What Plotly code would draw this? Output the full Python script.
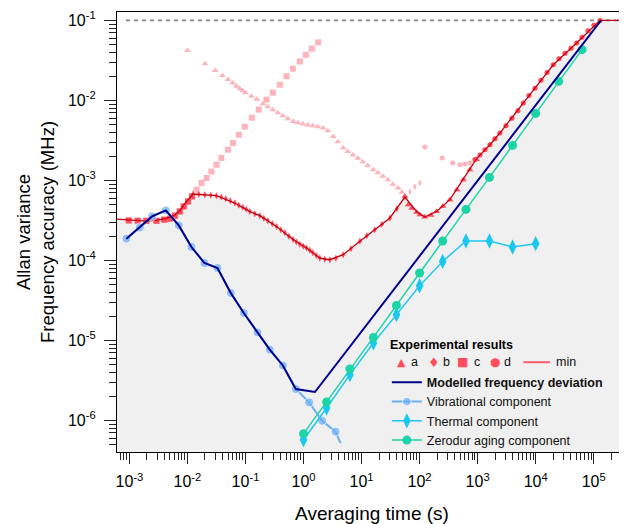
import numpy as np
import plotly.graph_objects as go

# ---------------- data ----------------
tick_exps_x = [-3, -2, -1, 0, 1, 2, 3, 4, 5]
tick_exps_y = [-6, -5, -4, -3, -2, -1]
threshold = 0.1

# Vibrational component
vib_t = [8.87e-4, 1.507e-3, 2.455e-3, 4.23e-3, 7.08e-3, 1.172e-2, 1.963e-2, 3.29e-2, 5.58e-2,
         9.35e-2, 0.161, 0.262, 0.440, 0.736, 1.25, 2.09, 3.56, 4.35]
vib_s = [1.87e-4, 2.58e-4, 3.55e-4, 4.22e-4, 2.74e-4, 1.47e-4, 9.27e-5, 8.04e-5, 3.91e-5,
         2.20e-5, 1.26e-5, 7.66e-6, 4.86e-6, 2.47e-6, 1.68e-6, 9.91e-7, 7.23e-7, 5.21e-7]

# Thermal component
therm_t = [1.0, 2.5, 6.3, 16, 40, 100, 250, 630, 1600, 4000, 10000]
therm_s = [5.74e-7, 1.43e-6, 3.73e-6, 9.28e-6, 2.10e-5, 4.83e-5, 9.71e-5, 1.75e-4, 1.75e-4, 1.47e-4, 1.62e-4]

# Zerodur aging component
zer_t = [1.0, 2.5, 6.3, 16, 40, 100, 250, 630, 1600, 4000, 10000, 25000, 63000]
zer_s = [6.83e-7, 1.70e-6, 4.39e-6, 1.09e-5, 2.74e-5, 6.96e-5, 1.75e-4, 4.34e-4, 1.09e-3,
         2.74e-3, 6.88e-3, 1.73e-2, 4.31e-2]

# Modelled frequency deviation
model_t = [8.87e-4, 1.507e-3, 2.455e-3, 4.23e-3, 7.08e-3, 1.172e-2, 1.963e-2, 3.29e-2, 5.58e-2,
           9.35e-2, 0.161, 0.262, 0.440, 0.736, 1.574, 1.337e5]
model_s = [1.87e-4, 2.58e-4, 3.55e-4, 4.22e-4, 2.74e-4, 1.47e-4, 9.27e-5, 8.04e-5, 3.91e-5,
           2.20e-5, 1.26e-5, 7.66e-6, 4.86e-6, 2.47e-6, 2.265e-6, 0.1]

# Experimental series a (triangles)
a_t = [0.010, 0.020, 0.030, 0.040, 0.050, 0.060, 0.070, 0.080, 0.090, 0.100, 0.127, 0.157, 0.200,
       0.242, 0.296, 0.361, 0.440, 0.536, 0.662, 0.798, 0.973, 1.186, 1.445, 1.765, 2.18, 2.62,
       3.24, 3.90, 4.82, 5.81, 7.08, 8.64, 10.5, 12.8, 15.8, 19.1, 23.3, 28.4, 34.7, 42.8, 49.5,
       55.8, 63.6, 73.6, 88.7, 101, 123, 157, 196, 252, 333, 440, 565, 736, 961]
a_s = [4.22e-2, 2.88e-2, 2.37e-2, 2.05e-2, 1.82e-2, 1.65e-2, 1.50e-2, 1.40e-2, 1.32e-2, 1.25e-2,
       1.13e-2, 1.035e-2, 9.1e-3, 8.34e-3, 7.66e-3, 7.02e-3, 6.44e-3, 5.91e-3, 5.46e-3, 5.26e-3,
       5.07e-3, 4.94e-3, 4.83e-3, 4.69e-3, 4.52e-3, 4.18e-3, 3.55e-3, 3.05e-3, 2.54e-3, 2.29e-3,
       2.07e-3, 1.89e-3, 1.71e-3, 1.53e-3, 1.36e-3, 1.25e-3, 1.13e-3, 1.02e-3, 8.96e-4, 8.04e-4,
       7.11e-4, 6.31e-4, 4.97e-4, 4.49e-4, 4.0e-4, 3.72e-4, 3.48e-4, 3.67e-4, 4.09e-4, 4.75e-4,
       5.74e-4, 7.66e-4, 1.02e-3, 1.36e-3, 1.82e-3]

# Experimental series b (diamonds)
b_t = [0.0125, 0.01567, 0.01986, 0.02523, 0.0316, 0.0383, 0.0457, 0.0547, 0.0655, 0.0766, 0.0897,
       0.1032, 0.1186, 0.1446, 0.1766, 0.207, 0.2427, 0.290, 0.342, 0.406, 0.476, 0.558, 0.662,
       0.752, 0.863, 0.993, 1.127, 1.285, 1.446, 1.663, 1.91, 2.33, 2.84, 3.61, 4.82, 6.55, 9.35,
       12.3, 16.9, 22.4, 30.8, 40.6, 55.8, 68.1, 83.0, 101]
b_s = [6.76e-4, 6.70e-4, 6.62e-4, 6.53e-4, 6.44e-4, 6.19e-4, 5.91e-4, 5.57e-4, 5.21e-4, 4.90e-4,
       4.62e-4, 4.37e-4, 4.09e-4, 3.84e-4, 3.62e-4, 3.37e-4, 3.13e-4, 2.88e-4, 2.66e-4, 2.42e-4,
       2.22e-4, 2.01e-4, 1.82e-4, 1.70e-4, 1.59e-4, 1.50e-4, 1.43e-4, 1.34e-4, 1.25e-4, 1.15e-4,
       1.07e-4, 1.035e-4, 1.02e-4, 1.065e-4, 1.18e-4, 1.40e-4, 1.73e-4, 2.04e-4, 2.42e-4, 2.83e-4,
       3.39e-4, 4.43e-4, 6.19e-4, 7.23e-4, 8.34e-4, 9.27e-4]

# Experimental series c (squares)
c_t = [9.73e-4, 1.39e-3, 1.96e-3, 2.92e-3, 3.95e-3, 4.95e-3, 6.04e-3, 7.36e-3, 8.63e-3, 1.023e-2,
       1.20e-2, 1.43e-2, 1.74e-2, 2.13e-2, 2.59e-2, 3.16e-2, 3.85e-2, 5.01e-2, 6.11e-2, 7.66e-2,
       9.73e-2, 0.1285, 0.1694, 0.230, 0.296, 0.390, 0.509, 0.655, 0.863, 1.096, 1.39, 1.79]
c_s = [3.16e-4, 3.13e-4, 3.13e-4, 3.13e-4, 3.23e-4, 3.32e-4, 3.62e-4, 4.09e-4, 4.73e-4, 5.46e-4,
       6.31e-4, 7.66e-4, 9.27e-4, 1.07e-3, 1.29e-3, 1.57e-3, 1.91e-3, 2.42e-3, 2.93e-3, 3.72e-3,
       4.69e-3, 6.08e-3, 7.66e-3, 1.02e-2, 1.25e-2, 1.57e-2, 2.0e-2, 2.49e-2, 3.07e-2, 3.72e-2,
       4.43e-2, 5.31e-2]

# Experimental series d (circles)
d_t = [123, 245, 371, 495, 604, 736, 897, 1096, 1337, 1630, 1986, 2420, 3076, 3900, 4955, 6110,
       7660, 9720, 12300, 15700, 20100, 25200, 32000, 40600, 50900, 62800, 79800, 101000, 128500]
d_s = [2.61e-3, 1.91e-3, 1.65e-3, 1.57e-3, 1.60e-3, 1.65e-3, 1.82e-3, 2.07e-3, 2.42e-3, 2.79e-3,
       3.32e-3, 3.91e-3, 4.83e-3, 5.99e-3, 7.43e-3, 9.27e-3, 1.15e-2, 1.42e-2, 1.79e-2, 2.24e-2,
       2.79e-2, 3.32e-2, 3.89e-2, 4.49e-2, 5.21e-2, 6.17e-2, 7.43e-2, 8.71e-2, 0.1]

# Minimum of the experimental results
min_t = [5.01e-4, 9.73e-4, 1.99e-3, 2.96e-3, 4.23e-3, 5.81e-3, 7.36e-3, 8.99e-3, 1.067e-2, 1.25e-2,
         3.16e-2, 6.55e-2, 0.1186, 0.1766, 0.343, 0.662, 1.127, 1.91, 2.84, 4.82, 9.35, 16.9, 30.8,
         55.8, 88.7, 123, 196, 333, 565, 961, 1630, 2420, 6110, 20100, 50900, 128500, 5.0e5]
min_s = [3.32e-4, 3.23e-4, 3.09e-4, 3.18e-4, 3.32e-4, 3.62e-4, 4.18e-4, 5.12e-4, 5.85e-4, 6.76e-4,
         6.44e-4, 5.21e-4, 4.09e-4, 3.62e-4, 2.66e-4, 1.82e-4, 1.43e-4, 1.07e-4, 1.02e-4, 1.18e-4,
         1.73e-4, 2.42e-4, 3.39e-4, 6.19e-4, 4.09e-4, 3.48e-4, 4.09e-4, 5.74e-4, 1.02e-3, 1.87e-3,
         2.79e-3, 3.91e-3, 9.27e-3, 2.79e-2, 5.21e-2, 0.1, 0.1]

# ---------------- styling ----------------
FONT = "Arial, Liberation Sans, sans-serif"
PALE = "#ffb3bb"
BRIGHT = "#ff4d5e"
MINLINE = "#c40010"
VIB = "#6aaef5"
THERM = "#1cc8f0"
ZER = "#1cd4a6"
NAVY = "#00008b"

X0, X1 = -3.214, 5.574
Y0, Y1 = -6.395, -0.895

fig = go.Figure()

# gray area under the min curve
fig.add_trace(go.Scatter(
    x=min_t + [min_t[-1], min_t[0]], y=min_s + [1e-8, 1e-8],
    fill="toself", fillcolor="#f0f0f0", mode="none", hoverinfo="skip", showlegend=False))

# threshold dashed line
fig.add_trace(go.Scatter(x=[8.7e-4, 1e6], y=[threshold, threshold], mode="lines",
                         line=dict(color="#808080", width=1.6, dash="4px,4px"),
                         showlegend=False, hoverinfo="skip"))

log_min_t = np.log10(min_t)
log_min_s = np.log10(min_s)
series = [("a", a_t, a_s, "triangle-up", 6), ("b", b_t, b_s, "diamond-tall", 5),
          ("c", c_t, c_s, "square", 6), ("d", d_t, d_s, "circle", 5)]
for name, t, s, sym, sz in series:
    fig.add_trace(go.Scatter(x=t, y=s, mode="markers", name=name,
                             marker=dict(symbol=sym, size=sz, color=PALE),
                             showlegend=False))
for name, t, s, sym, sz in series:
    lt = np.log10(t)
    ls = np.log10(s)
    ref = np.interp(lt, log_min_t, log_min_s)
    m = ls <= ref + 0.035
    fig.add_trace(go.Scatter(x=np.array(t)[m], y=np.array(s)[m], mode="markers", name=name,
                             marker=dict(symbol=sym, size=sz, color=BRIGHT),
                             showlegend=False))

fig.add_trace(go.Scatter(x=min_t, y=min_s, mode="lines", name="min",
                         line=dict(color=MINLINE, width=1.3), showlegend=False))

vib_sizes = [9] * (len(vib_t) - 1) + [0]
fig.add_trace(go.Scatter(x=vib_t, y=vib_s, mode="lines+markers", name="Vibrational component",
                         line=dict(color=VIB, width=2),
                         marker=dict(symbol="circle", size=vib_sizes, color=VIB),
                         legendrank=2))
fig.add_trace(go.Scatter(x=therm_t, y=therm_s, mode="lines+markers", name="Thermal component",
                         line=dict(color=THERM, width=1.5),
                         marker=dict(symbol="diamond-tall", size=11, color=THERM),
                         legendrank=3))
fig.add_trace(go.Scatter(x=zer_t, y=zer_s, mode="lines+markers", name="Zerodur aging component",
                         line=dict(color=ZER, width=1.5),
                         marker=dict(symbol="circle", size=9, color=ZER),
                         legendrank=4))
fig.add_trace(go.Scatter(x=model_t, y=model_s, mode="lines",
                         name="<b>Modelled frequency deviation</b>",
                         line=dict(color=NAVY, width=2), legendrank=1))

# ---------------- axes ----------------
def minor_vals(e0, e1):
    return [k * 10.0 ** e for e in range(e0, e1) for k in range(2, 10)]

fig.update_xaxes(
    type="log", range=[X0, X1], automargin=False,
    tickvals=[10.0 ** e for e in tick_exps_x],
    ticktext=[f"10<sup>{e}</sup>" for e in tick_exps_x],
    ticks="outside", ticklen=11, tickwidth=1.2, tickcolor="#222", ticklabelstandoff=4,
    minor=dict(tickvals=minor_vals(-4, 6), ticks="outside", ticklen=7, tickwidth=1, tickcolor="#222"),
    showline=True, linecolor="black", linewidth=1.3, mirror=True,
    showgrid=False, zeroline=False,
    tickfont=dict(size=16, family=FONT, color="black"),
    title=dict(text="Averaging time (s)", font=dict(size=19, family=FONT, color="black"), standoff=18),
)
fig.update_yaxes(
    type="log", range=[Y0, Y1], automargin=False,
    tickvals=[10.0 ** e for e in tick_exps_y],
    ticktext=[f"10<sup>{e}</sup>" for e in tick_exps_y],
    ticks="outside", ticklen=12, tickwidth=1.2, tickcolor="#222", ticklabelstandoff=5,
    minor=dict(tickvals=minor_vals(-7, 0), ticks="outside", ticklen=7, tickwidth=1, tickcolor="#222"),
    showline=True, linecolor="black", linewidth=1.3, mirror=False,
    showgrid=False, zeroline=False,
    tickfont=dict(size=16, family=FONT, color="black"),
    title=dict(text="Allan variance<br>Frequency accuracy (MHz)",
               font=dict(size=18.5, family=FONT, color="black"), standoff=8),
)

# ---------------- legend ----------------
# The page body adds an 8 px offset, so the figure is 8 px smaller and the
# plot area lands at screen x 117..627, y 12..452.
OFF = 8
L, R, T, B = 117.3, 627.0, 12.3, 452.3
def px(x):
    return (x - L) / (R - L)
def py(y):
    return (B - y) / (B - T)

annos = [dict(text="<b>Experimental results</b>", x=px(388.5), y=py(345), xanchor="left",
              font=dict(size=12.5, family=FONT, color="black"))]
glyphs = [("▲", 402, "a", 409.5, 11), ("♦", 434, "b", 441, 13), ("■", 463, "c", 472, 12),
          ("●", 495, "d", 502.5, 12)]
for g, gx, lab, lx, gs in glyphs:
    annos.append(dict(text=g, x=px(gx), y=py(362.5), xanchor="center",
                      font=dict(size=gs, family="DejaVu Sans", color=BRIGHT)))
    annos.append(dict(text=lab, x=px(lx), y=py(362.5), xanchor="left",
                      font=dict(size=12.5, family=FONT, color="#111")))
annos.append(dict(text="min", x=px(554), y=py(362.5), xanchor="left",
                  font=dict(size=12.5, family=FONT, color="#111")))
for a in annos:
    a.update(xref="paper", yref="paper", yanchor="middle", showarrow=False)

fig.update_layout(
    width=627 - OFF, height=524 - OFF,
    margin=dict(l=117 - OFF, r=0, t=12 - OFF, b=72),
    plot_bgcolor="white", paper_bgcolor="white",
    font=dict(family=FONT, size=12, color="black"),
    annotations=annos,
    shapes=[dict(type="line", xref="paper", yref="paper", x0=px(523.5), x1=px(550),
                 y0=py(362.5), y1=py(362.5), line=dict(color="#ff5a6a", width=2))],
    legend=dict(x=px(387), y=py(368), xanchor="left", yanchor="top",
                bgcolor="rgba(0,0,0,0)", font=dict(size=12.5, family=FONT, color="#111"),
                itemwidth=30, tracegroupgap=0),
    showlegend=True,
)

fig.write_html("out.html")
